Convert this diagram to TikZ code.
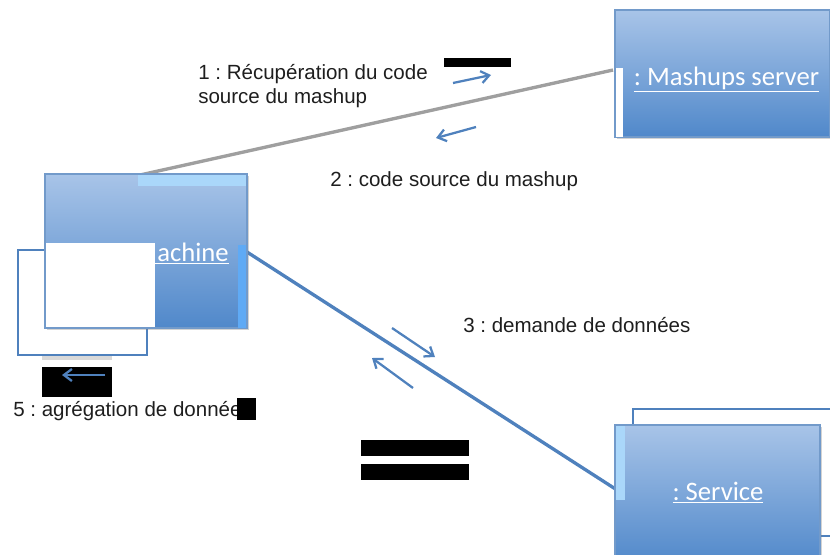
\documentclass[tikz,border=0pt]{standalone}
\usepackage{fontspec}
\setmainfont{Liberation Sans}
\newfontfamily\boxfont{Carlito}
\usetikzlibrary{arrows.meta,shadows}
\definecolor{topblue}{RGB}{168,196,232}
\definecolor{botblue}{RGB}{80,136,202}
\definecolor{lineblue}{RGB}{79,129,189}
\definecolor{stripblue}{RGB}{170,215,250}
\definecolor{rightstrip}{RGB}{95,170,245}
\definecolor{txt}{RGB}{30,30,30}
\tikzset{
  objbox/.style={draw=lineblue!80, line width=0.8pt, top color=topblue, bottom color=botblue, inner sep=0pt,
    drop shadow={opacity=0.35, shadow xshift=1.5pt, shadow yshift=-1.5pt}},
  objlabel/.style={font=\frenchspacing\boxfont\fontsize{20}{24}\selectfont, text=white, inner sep=0pt},
  msg/.style={font=\frenchspacing\fontsize{15.4}{18}\selectfont, text=txt, inner sep=0pt, align=left},
  msgarrow/.style={draw=lineblue, line width=1.7pt, -{Straight Barb[length=6pt,width=9pt,line width=1.7pt]}},
  outlinebox/.style={draw=lineblue, line width=1.8pt},
  redact/.style={fill=black, draw=none},
  link/.style={line width=2.5pt}
}
\begin{document}
\begin{tikzpicture}[x=0.75pt,y=-0.75pt]
\useasboundingbox (0,0) rectangle (830,554);
\clip (0,0) rectangle (830,554);

% links (behind boxes)
\coordinate (m1) at (140,175);
\coordinate (s1) at (613,70);
\coordinate (m2) at (247,252);
\coordinate (v1) at (617,490);
\draw[link, draw=gray!75, drop shadow={opacity=0.3,shadow xshift=0.8pt,shadow yshift=-0.8pt}] (m1) -- (s1);
\draw[link, draw=lineblue, drop shadow={opacity=0.3,shadow xshift=0.8pt,shadow yshift=-0.8pt}] (m2) -- (v1);

% Mashups server
\node[objbox, minimum width=161.25pt, minimum height=95.25pt] (mashups) at (722.5,73.5) {};
\fill[white] (616,68) rectangle (623,137);
\node[objlabel, anchor=base] (mashupslbl) at (726.5,85) {\underline{: Mashups server}};

% outline behind Service
\draw[outlinebox] (633,425) -- (633,409) -- (860,409) -- (860,536) -- (820,536);
% Service
\node[objbox, minimum width=153.75pt, minimum height=105pt] (service) at (717.5,495) {};
\fill[stripblue] (615.5,425.5) rectangle (625,500);
\node[objlabel, anchor=base] (servicelbl) at (718,500) {\underline{: Service}};

% outline behind Machine
\draw[outlinebox] (18,250) rectangle (147,355);
% Machine
\node[objbox, minimum width=151.5pt, minimum height=115.5pt] (machine) at (146,251) {};
\fill[stripblue] (138,174.5) rectangle (245.5,186);
\fill[rightstrip] (238,245) rectangle (246,327.5);
\node[objlabel, anchor=base east] (machinelbl) at (229,261) {\underline{: Machine}};
\fill[white] (46,243) rectangle (155,327);

% under-bar and redacted items
\fill[gray!30] (42,356) rectangle (112,360);
\fill[redact] (42,367) rectangle (112,397);
\coordinate (a5s) at (105,375);
\coordinate (a5e) at (62,375);
\draw[msgarrow] (a5s) -- (a5e);
\node[msg, anchor=base west] (l5) at (13,416) {5 : agrégation de donnée};
\fill[redact] (237,398) rectangle (256,420);

% message 1 / 2
\node[msg, anchor=base west] (l1) at (198,79) {1 : Récupération du code};
\node[msg, anchor=base west] (l1b) at (198,103) {source du mashup};
\fill[redact] (444,58) rectangle (511,67);
\coordinate (a1s) at (453,83);
\coordinate (a1e) at (491,75);
\draw[msgarrow] (a1s) -- (a1e);
\coordinate (a2s) at (476,127);
\coordinate (a2e) at (436,138);
\draw[msgarrow] (a2s) -- (a2e);
\node[msg, anchor=base west] (l2) at (330,186) {2 : code source du mashup};

% message 3 / 4
\node[msg, anchor=base west] (l3) at (463,332) {3 : demande de données};
\coordinate (a3s) at (392,328);
\coordinate (a3e) at (435,357);
\draw[msgarrow] (a3s) -- (a3e);
\coordinate (a4s) at (413,388);
\coordinate (a4e) at (372,358);
\draw[msgarrow] (a4s) -- (a4e);
\fill[redact] (361,440) rectangle (469,456);
\fill[redact] (361,464) rectangle (469,480);
\end{tikzpicture}
\end{document}
